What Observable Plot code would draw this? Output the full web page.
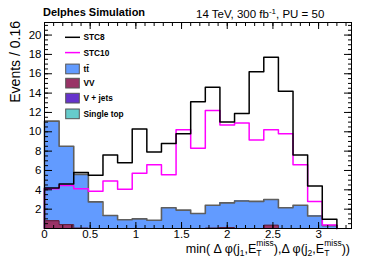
<!DOCTYPE html>
<html><head><meta charset="utf-8">
<script src="https://cdn.jsdelivr.net/npm/d3@7"></script>
<script src="https://cdn.jsdelivr.net/npm/@observablehq/plot@0.6"></script>
<style>
body{margin:0;background:#fff}
svg{font-family:"Liberation Sans",Arial,Helvetica,sans-serif}
</style>
</head><body><div id="chart"></div>
<script>
// bin left edges (width 0.16) and last right edge
const binEdges = [0, 0.16, 0.32, 0.48, 0.64, 0.80, 0.96, 1.12, 1.28, 1.44, 1.60, 1.76, 1.92, 2.08, 2.24, 2.40, 2.56, 2.72, 2.88, 3.04, 3.20];
// signal lines
const stc8  = [4.2, 4.6, 5.8, 5.5, 7.6, 6.8, 10.3, 7.9, 8.8, 9.8, 13.1, 14.6, 11.0, 11.9, 16.2, 17.7, 14.2, 7.6, 4.4, 0.95];
const stc10 = [4.1, 4.45, 4.1, 3.85, 4.9, 4.05, 5.7, 6.6, 5.55, 10.2, 8.3, 12.2, 10.7, 10.9, 9.15, 10.2, 9.8, 6.6, 2.8, 0.35];
// stacked backgrounds
const vv        = [0.8, 0.4, 0.05, 0, 0, 0, 0, 0, 0, 0, 0, 0.05, 0.1, 0, 0, 0.35, 0, 0, 0, 0];
const vjets     = [0, 0, 0, 0, 0, 0, 0, 0, 0, 0, 0, 0, 0, 0, 0, 0, 0, 0, 0, 0];
const singleTop = [0, 0, 0, 0, 0, 0, 0, 0, 0, 0, 0, 0, 0, 0, 0, 0, 0, 0, 0, 0];
const ttbar     = [10.3, 8.1, 5.55, 2.75, 1.35, 0.9, 1.0, 0.85, 2.15, 1.9, 1.55, 2.35, 2.55, 2.85, 2.8, 2.65, 2.15, 2.4, 1.3, 0.3];
// labels
const xTicks = [0, 0.5, 1, 1.5, 2, 2.5, 3];
const yTicks = [2, 4, 6, 8, 10, 12, 14, 16, 18, 20];
const lineNames = ["STC8", "STC10"];
const lineColors = ["#000000", "#ff00ff"];
const bkgNames = ["tt\u0304", "VV", "V + jets", "Single top"];
const bkgColors = ["#629bff", "#993366", "#6633cc", "#66cccc"];
const title = "Delphes Simulation";
const yLabel = "Events / 0.16";

// build tables
const stackOrder = [["VV", vv], ["V + jets", vjets], ["Single top", singleTop], ["tt\u0304", ttbar]];
const rects = [];
for (const [name, vals] of stackOrder) {
  vals.forEach((v, i) => rects.push({x1: binEdges[i], x2: binEdges[i + 1], y: v, comp: name}));
}
const total = ttbar.map((v, i) => v + vv[i] + vjets[i] + singleTop[i]);
function steps(vals) {
  const pts = [{x: 0, y: 0}];
  vals.forEach((v, i) => pts.push({x: binEdges[i], y: v}));
  pts.push({x: binEdges[binEdges.length - 1], y: 0});
  return pts;
}
const xMinor = d3.range(0, 3.361, 0.1);
const yMinor = d3.range(0, 21.3, 0.5);

const plot = Plot.plot({
  width: 366, height: 262,
  marginLeft: 44, marginRight: 15, marginTop: 22, marginBottom: 34,
  x: {domain: [0, 3.36]},
  y: {domain: [0, 21.3]},
  color: {domain: bkgNames, range: bkgColors},
  style: {fontFamily: '"Liberation Sans", Arial, sans-serif', background: "white", overflow: "visible"},
  marks: [
    Plot.rectY(rects, {x1: "x1", x2: "x2", y: "y", fill: "comp", shapeRendering: "crispEdges"}),
    Plot.line(steps(vv), {x: "x", y: "y", curve: "step-after", stroke: "#5a1f3c", strokeWidth: 1}),
    Plot.line(steps(total), {x: "x", y: "y", curve: "step-after", stroke: "#5e5e5e", strokeWidth: 1.6}),
    Plot.line(steps(stc10), {x: "x", y: "y", curve: "step-after", stroke: lineColors[1], strokeWidth: 1.5}),
    Plot.line(steps(stc8), {x: "x", y: "y", curve: "step-after", stroke: lineColors[0], strokeWidth: 1.5}),
    Plot.frame({stroke: "black", strokeWidth: 1}),
    Plot.axisX({ticks: xTicks, tickSize: -6, fill: "none", label: null}),
    Plot.axisX({ticks: xMinor, tickSize: -3, fill: "none", label: null}),
    Plot.axisX({anchor: "top", ticks: xTicks, tickSize: -6, fill: "none", label: null}),
    Plot.axisX({anchor: "top", ticks: xMinor, tickSize: -3, fill: "none", label: null}),
    Plot.axisX({ticks: xTicks, tickSize: 0, tickPadding: 1, fontSize: 11.5, label: null, tickFormat: d => String(d)}),
    Plot.axisY({ticks: yTicks, tickSize: -8, fill: "none", label: null}),
    Plot.axisY({ticks: yMinor, tickSize: -4, fill: "none", label: null}),
    Plot.axisY({anchor: "right", ticks: yTicks, tickSize: -8, fill: "none", label: null}),
    Plot.axisY({anchor: "right", ticks: yMinor, tickSize: -4, fill: "none", label: null}),
    Plot.axisY({ticks: yTicks, tickSize: 0, tickPadding: 3, fontSize: 11.5, label: null})
  ]
});

const svg = d3.select(plot);
// title texts
svg.append("text").attr("x", 43).attr("y", 15.5).attr("text-anchor", "start")
  .attr("font-size", 11).attr("font-weight", "bold").text(title);
const rt = svg.append("text").attr("x", 196).attr("y", 18).attr("text-anchor", "start").attr("font-size", 11.5);
rt.append("tspan").text("14 TeV, 300 fb");
rt.append("tspan").attr("font-size", 8).attr("dy", -4).text("-1");
rt.append("tspan").attr("dy", 4).text(", PU = 50");
// y label
svg.append("text").attr("transform", "translate(20,21) rotate(-90)").attr("text-anchor", "end")
  .attr("font-size", 14).text(yLabel);
// x label
const xl = svg.append("text").attr("x", 350).attr("y", 253).attr("text-anchor", "end").attr("font-size", 12.5);
function etmiss(sel) {
  sel.append("tspan").text("E");
  sel.append("tspan").attr("font-size", 8.5).attr("dy", 3).text("T");
  sel.append("tspan").attr("font-size", 8.5).attr("dx", -5.2).attr("dy", -10).text("miss");
}
xl.append("tspan").text("min( \u0394 \u03c6(j");
xl.append("tspan").attr("font-size", 8.5).attr("dy", 3).text("1");
xl.append("tspan").attr("dy", -3).text(",");
etmiss(xl);
xl.append("tspan").attr("dy", 7).text("),\u0394 \u03c6(j");
xl.append("tspan").attr("font-size", 8.5).attr("dy", 3).text("2");
xl.append("tspan").attr("dy", -3).text(",");
etmiss(xl);
xl.append("tspan").attr("dy", 7).text("))");

// legend
const lg = svg.append("g").attr("font-size", 8.3).attr("font-weight", "bold").attr("text-anchor", "start");
const rowY = [37.3, 52.6, 68.8, 83, 98, 113.7];
lineNames.forEach((n, i) => {
  lg.append("line").attr("x1", 65).attr("x2", 80).attr("y1", rowY[i]).attr("y2", rowY[i])
    .attr("stroke", lineColors[i]).attr("stroke-width", 1.5);
  lg.append("text").attr("x", 83.5).attr("y", rowY[i] + 3).text(n);
});
bkgNames.forEach((n, i) => {
  const y = rowY[i + 2];
  lg.append("rect").attr("x", 65.7).attr("y", y - 4.7).attr("width", 13.6).attr("height", 9.7)
    .attr("fill", bkgColors[i]).attr("stroke", "#555").attr("stroke-width", 1);
  lg.append("text").attr("x", 83.5).attr("y", y + 3).text(n);
});

document.getElementById("chart").appendChild(plot);
</script>
</body></html>
